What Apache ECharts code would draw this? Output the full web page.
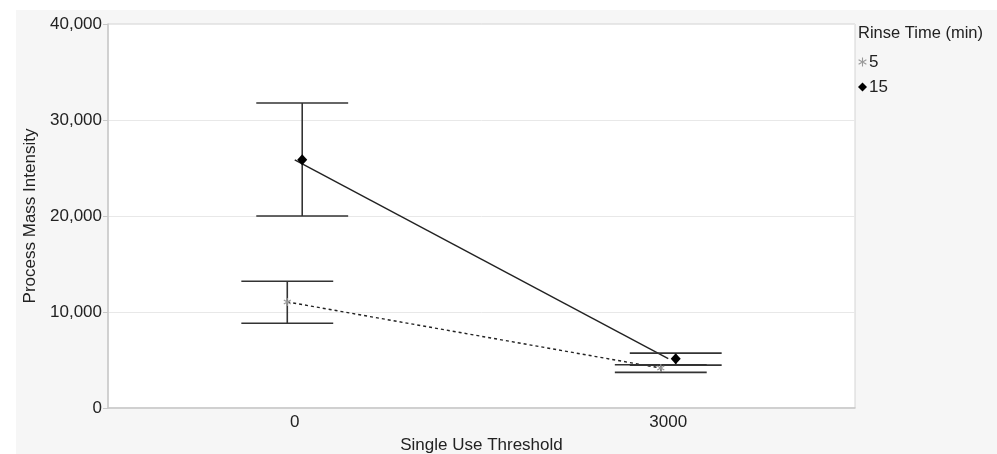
<!DOCTYPE html>
<html>
<head>
<meta charset="utf-8">
<script src="https://cdn.jsdelivr.net/npm/echarts@6/dist/echarts.min.js"></script>
<style>html,body{margin:0;padding:0;background:#fff}#c{width:997px;height:454px}</style>
</head>
<body>
<div id="c"></div>
<script>
var categories = ['0', '3000'];
var yTicks = [0, 10000, 20000, 30000, 40000];
var seriesNames = ['5', '15'];
var mean5 = [11050, 4160];
var low5 = [8830, 3710];
var high5 = [13210, 4500];
var mean15 = [25850, 5140];
var low15 = [20000, 4470];
var high15 = [31770, 5720];

var chart = echarts.init(document.getElementById('c'));
var FONT = '"Liberation Sans", Arial, sans-serif';
var FS = 17;

function rows(mean, low, high) {
  return mean.map(function (m, i) { return [i, m, low[i], high[i]]; });
}

function makeRender(mean, dodge, lineOffset, lineDash, marker) {
  return function (params, api) {
    var i = params.dataIndex;
    var band = api.size([1, 0])[0];
    var c = api.coord([api.value(0), api.value(1)]);
    var lo = api.coord([api.value(0), api.value(2)]);
    var hi = api.coord([api.value(0), api.value(3)]);
    var x = c[0] + dodge * band;
    var half = band * 0.123;
    var children = [];
    if (i < mean.length - 1) {
      var n = api.coord([i + 1, mean[i + 1]]);
      children.push({
        type: 'line', z2: 1,
        shape: { x1: c[0] + lineOffset * band, y1: c[1], x2: n[0] + lineOffset * band, y2: n[1] },
        style: { stroke: '#222', lineWidth: 1.4, lineDash: lineDash }
      });
    }
    var eb = { stroke: '#333', lineWidth: 1.6 };
    children.push({ type: 'line', z2: 2, shape: { x1: x, y1: hi[1], x2: x, y2: lo[1] }, style: eb });
    children.push({ type: 'line', z2: 2, shape: { x1: x - half, y1: hi[1], x2: x + half, y2: hi[1] }, style: eb });
    children.push({ type: 'line', z2: 2, shape: { x1: x - half, y1: lo[1], x2: x + half, y2: lo[1] }, style: eb });
    if (marker === 'diamond') {
      children.push({
        type: 'polygon', z2: 3,
        shape: { points: [[x, c[1] - 5.5], [x + 5, c[1]], [x, c[1] + 5.5], [x - 5, c[1]]] },
        style: { fill: '#000' }
      });
    } else {
      var r = 4;
      var st = { stroke: '#999', lineWidth: 1.1 };
      children.push({ type: 'line', z2: 3, shape: { x1: x, y1: c[1] - r, x2: x, y2: c[1] + r }, style: st });
      children.push({ type: 'line', z2: 3, shape: { x1: x - r * 0.87, y1: c[1] - r * 0.5, x2: x + r * 0.87, y2: c[1] + r * 0.5 }, style: st });
      children.push({ type: 'line', z2: 3, shape: { x1: x - r * 0.87, y1: c[1] + r * 0.5, x2: x + r * 0.87, y2: c[1] - r * 0.5 }, style: st });
    }
    return { type: 'group', children: children };
  };
}

var asteriskIcon = 'path://M4.4,0L5.6,0L5.6,10L4.4,10Z M0.97,1.98L9.63,6.98L9.03,8.02L0.37,3.02Z M0.37,6.98L9.03,1.98L9.63,3.02L0.97,8.02Z';

var option = {
  backgroundColor: '#fff',
  animation: false,
  graphic: [{
    type: 'rect', z: -10, silent: true,
    shape: { x: 16, y: 10, width: 981, height: 444 },
    style: { fill: '#f6f6f6' }
  }],
  title: {
    text: 'Rinse Time (min)', left: 858, top: 25, padding: 0,
    textStyle: { fontFamily: FONT, fontSize: 16.5, fontWeight: 'normal', color: '#222' }
  },
  legend: {
    orient: 'vertical', left: 853, top: 48,
    itemWidth: 9, itemHeight: 9, itemGap: 7,
    textStyle: { fontFamily: FONT, fontSize: FS, color: '#222', padding: [0, 0, 0, -3], lineHeight: 18 },
    data: [{ name: seriesNames[0], icon: asteriskIcon }, { name: seriesNames[1], icon: 'diamond' }]
  },
  grid: {
    left: 108, right: 142, top: 24, bottom: 46,
    outerBoundsMode: 'none', containLabel: false,
    show: true, backgroundColor: '#fff', borderColor: '#d4d4d4', borderWidth: 1
  },
  xAxis: {
    type: 'category', data: categories, boundaryGap: true,
    name: 'Single Use Threshold', nameLocation: 'middle', nameGap: 29,
    nameTextStyle: { fontFamily: FONT, fontSize: FS, color: '#222' },
    axisLine: { lineStyle: { color: '#c8c8c8', width: 1.5 } },
    axisTick: { show: false },
    axisLabel: { fontFamily: FONT, fontSize: FS, color: '#222', margin: 6 },
    splitLine: { show: false }
  },
  yAxis: {
    type: 'value', min: yTicks[0], max: yTicks[yTicks.length - 1], interval: 10000,
    name: 'Process Mass Intensity', nameLocation: 'middle', nameGap: 65,
    nameTextStyle: { fontFamily: FONT, fontSize: FS, color: '#222' },
    axisLine: { show: true, lineStyle: { color: '#c8c8c8', width: 1.5 } },
    axisTick: { show: true, length: 5, lineStyle: { color: '#c8c8c8' } },
    axisLabel: {
      fontFamily: FONT, fontSize: FS, color: '#222', margin: 6,
      formatter: function (v) { return v.toLocaleString('en-US'); }
    },
    splitLine: { lineStyle: { color: '#e8e8e8' } }
  },
  series: [{
    name: seriesNames[0], type: 'custom',
    itemStyle: { color: '#999' },
    encode: { x: 0, y: 1 },
    data: rows(mean5, low5, high5),
    renderItem: makeRender(mean5, -0.02, -0.02, [3, 3], 'asterisk')
  }, {
    name: seriesNames[1], type: 'custom',
    itemStyle: { color: '#000' },
    encode: { x: 0, y: 1 },
    data: rows(mean15, low15, high15),
    renderItem: makeRender(mean15, 0.02, 0, null, 'diamond')
  }]
};
chart.setOption(option);
</script>
</body>
</html>
